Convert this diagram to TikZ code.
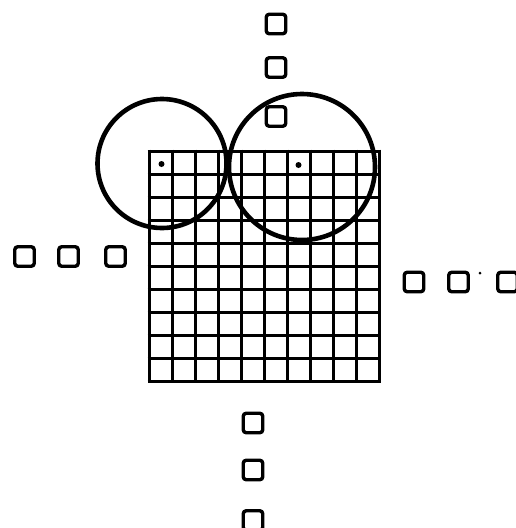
\documentclass[tikz,border=0pt]{standalone}
\usetikzlibrary{positioning}
\begin{document}
\begin{tikzpicture}[
  x=1pt, y=-1pt,
  box/.style={draw,rectangle,rounded corners=3pt,line width=3.4pt,minimum size=19.5pt,inner sep=0pt},
  ring/.style={draw,circle,line width=4.6pt,inner sep=0pt},
  spot/.style={circle,fill,inner sep=0pt,minimum size=6pt}
]
  \useasboundingbox (0,0) rectangle (515,528);

  % the 10 x 10 array
  \foreach \i in {0,...,10} {
    \draw[line width=3pt] (149+23*\i,149.5) -- (149+23*\i,382.5);
    \draw[line width=3pt] (147.5,151+23*\i) -- (380.5,151+23*\i);
  }

  \node[spot] (p) at (161.5,164) {};
  \node[spot] (q) at (298.5,165) {};

  \node[ring,minimum size=129pt] (cp) at (162,163.5) {};
  \node[ring,minimum size=146pt] (cq) at (302,167) {};

  % neighbour boxes
  \node[box] (n1) at (276,24)    {};
  \node[box] (n2) at (276,67.5)  {};
  \node[box] (n3) at (276,116.5) {};

  \node[box] (w1) at (24.5,256.5)  {};
  \node[box] (w2) at (68.5,256.5)  {};
  \node[box] (w3) at (115.5,256.5) {};

  \node[box] (e1) at (414,282)   {};
  \node[box] (e2) at (458.5,282) {};
  \node[box] (e3) at (507.5,282) {};
  \node[spot,minimum size=3pt] (d) at (480,273) {};

  \node[box] (s1) at (253,423) {};
  \node[box] (s2) at (253,470) {};
  \node[box] (s3) at (253,520.5) {};
\end{tikzpicture}
\end{document}
